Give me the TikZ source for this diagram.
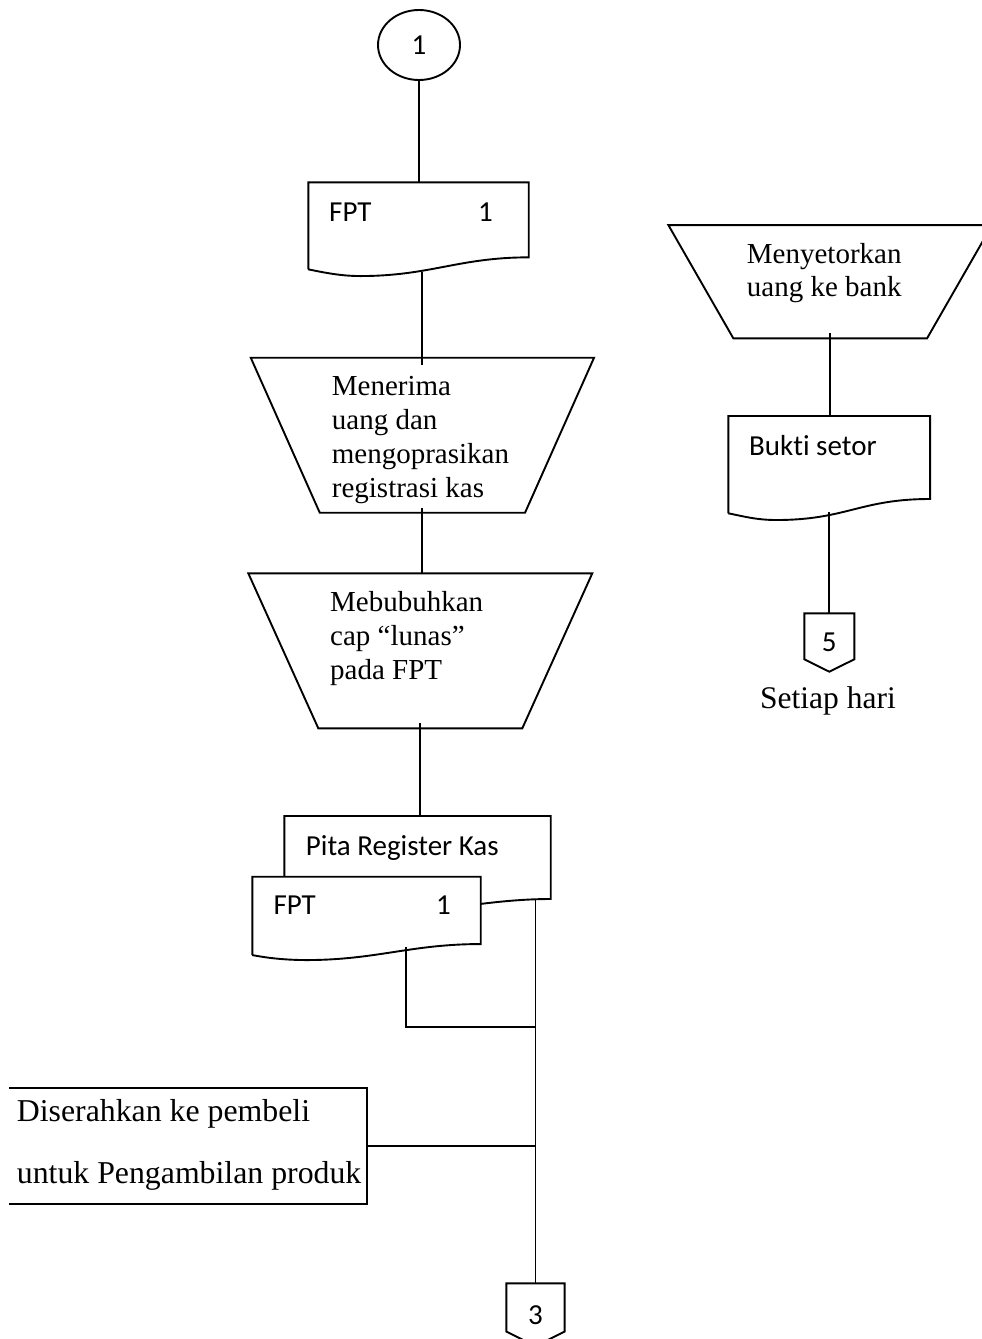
\documentclass[tikz,border=0pt]{standalone}
\usepackage{fontspec}
\setmainfont{Liberation Serif}
\newfontfamily\calibri[Ligatures=NoCommon]{Carlito}
\usetikzlibrary{shapes.geometric}

\tikzset{
  garis/.style={line width=1.9pt},
  kotak/.style={inner sep=0pt, outer sep=0pt, draw=none},
  sans/.style={font=\calibri\fontsize{29}{34}\selectfont, inner sep=0pt},
  serif/.style={font=\fontsize{29}{34}\selectfont, inner sep=0pt, align=left},
  besar/.style={font=\fontsize{31.8}{61.6}\selectfont, inner sep=0pt, align=left}
}

% bentuk bagan alir
\newcommand{\corong}[2]{\draw[garis] (#1.north west) -- (#1.north east) -- ([xshift=-#2]#1.south east) -- ([xshift=#2]#1.south west) -- cycle;}
\newcommand{\dokumen}[4]{\draw[garis,fill=white] ([yshift=#3]#1.south west) -- (#1.north west) -- (#1.north east) -- ([yshift=#2]#1.south east) .. controls +(-70pt,0pt) and +(70pt,0pt) .. ([xshift=#4]#1.south west) .. controls +(-20pt,0pt) and +(15pt,-3pt) .. ([yshift=#3]#1.south west);}
\newcommand{\konektor}[2]{\draw[garis] (#1.north west) -- (#1.north east) -- ([yshift=#2]#1.south east) -- (#1.south) -- ([yshift=#2]#1.south west) -- cycle;}

\begin{document}
\begin{tikzpicture}[x=1pt,y=-1pt]
\useasboundingbox (0,0) rectangle (982,1339);
\clip (0,0) rectangle (982,1339);

% kolom kiri
\node (mulai) at (419,45) [ellipse, draw, garis, minimum width=82pt, minimum height=70pt, inner sep=0pt, font=\calibri\fontsize{29}{34}\selectfont] {1};

\node (fpt1) at (418.5,229.2) [kotak, minimum width=220.4pt, minimum height=93.7pt] {};
\dokumen{fpt1}{18.7pt}{6.7pt}{52pt}
\node (fpt1a) at (329,221) [sans, anchor=base west] {FPT};
\node (fpt1b) at (478,221) [sans, anchor=base west] {1};

\node (terima) at (422.4,435.2) [kotak, minimum width=343.3pt, minimum height=155pt] {};
\corong{terima}{69pt}
\node (terimateks) at (331.7,497) [serif, anchor=base west] {Menerima\\uang dan\\mengoprasikan\\registrasi kas};

\node (cap) at (420.3,650.8) [kotak, minimum width=344pt, minimum height=155pt] {};
\corong{cap}{70pt}
\node (capteks) at (330,679) [serif, anchor=base west] {Mebubuhkan\\cap “lunas”\\pada FPT};

\node (pita) at (417.5,866.5) [kotak, minimum width=266.4pt, minimum height=101pt] {};
\dokumen{pita}{18pt}{6pt}{64pt}
\node (pitateks) at (305.7,855) [sans, anchor=base west] {Pita Register Kas};

\node (fpt2) at (366.5,918.4) [kotak, minimum width=228.4pt, minimum height=83.3pt] {};
\dokumen{fpt2}{16pt}{5pt}{54pt}
\node (fpt2a) at (273.3,914) [sans, anchor=base west] {FPT};
\node (fpt2b) at (436,914) [sans, anchor=base west] {1};

\node (serah) at (188,1145.9) [kotak, minimum width=357.4pt, minimum height=116.3pt] {};
\draw[garis] (serah.north west) -- (serah.north east) -- (serah.south east) -- (serah.south west);
\node (serahteks) at (16.7,1183.3) [besar, anchor=base west] {Diserahkan ke pembeli\\untuk Pengambilan produk};

\node (k3) at (535.5,1314.7) [kotak, sans, minimum width=58.3pt, minimum height=62.7pt] {3};
\konektor{k3}{14.5pt}

% kolom kanan
\node (setor) at (830.2,281.7) [kotak, minimum width=323.7pt, minimum height=113.3pt] {};
\corong{setor}{65pt}
\node (setorteks) at (746.7,296.3) [serif, anchor=base west, font=\fontsize{29}{33}\selectfont] {Menyetorkan\\uang ke bank};

\node (bukti) at (829.2,468) [kotak, minimum width=201.7pt, minimum height=104pt] {};
\dokumen{bukti}{21pt}{6.7pt}{48pt}
\node (buktiteks) at (749,455) [sans, anchor=base west] {Bukti setor};

\node (k5) at (829.3,642.5) [kotak, sans, minimum width=50pt, minimum height=58.4pt] {5};
\konektor{k5}{12.4pt}
\node (hari) at (760,708) [anchor=base west, inner sep=0pt, font=\fontsize{31.5}{36}\selectfont] {Setiap hari};

% garis penghubung
\coordinate (ujungpita) at (535.5,900);
\coordinate (ekorfpt) at (406.3,946.7);
\coordinate (simpang) at (535.5,1026.7);
\draw[garis] (mulai.south) -- (mulai.south |- fpt1.north);
\draw[garis] ([yshift=4pt]terima.north |- fpt1.south) -- ([yshift=-7pt]terima.north);
\draw[garis] ([yshift=5pt]terima.south) -- (terima.south |- cap.north);
\draw[garis] ([yshift=5pt]cap.south) -- (cap.south |- pita.north);
\draw[garis] (ujungpita) -- (k3.north);
\draw[garis] (ekorfpt) |- (simpang);
\draw[garis] (serah.east) -- (serah.east -| k3.north);
\draw[garis] ([yshift=5pt]setor.south) -- (setor.south |- bukti.north);
\draw[garis] ([yshift=8pt]k5.north |- bukti.south) -- (k5.north);
\end{tikzpicture}
\end{document}
